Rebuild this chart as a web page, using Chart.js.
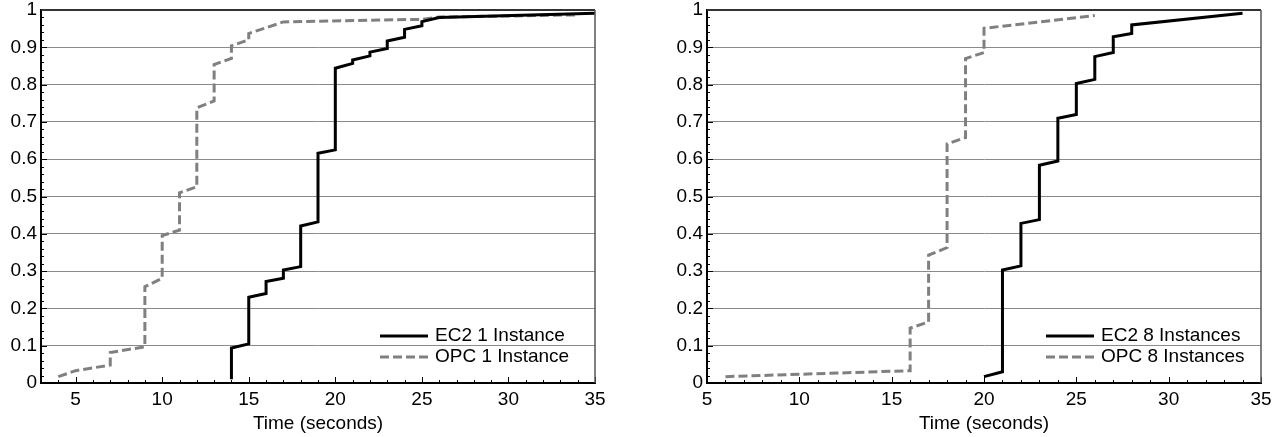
<!DOCTYPE html>
<html lang="en">
<head>
<meta charset="UTF-8">
<script src="https://cdn.jsdelivr.net/npm/chart.js"></script>
<title>CDF of run time</title>
<style>
  body { margin: 0; background: #fff; }
  canvas { position: absolute; top: 0; }
</style>
</head>
<body>
<canvas id="oneChart" width="640" height="437" style="left:0"></canvas>
<canvas id="eightChart" width="638" height="437" style="left:640px"></canvas>
<script>
// EC2 vs OPC, 1 instance (left panel)
const ec2OneX = [14, 14, 15, 15, 16, 16, 17, 17, 18, 18, 19, 19, 20, 20, 21, 21, 22, 22, 23, 23, 24, 24, 25, 25, 26, 35];
const ec2OneY = [0.01, 0.094, 0.105, 0.23, 0.24, 0.272, 0.281, 0.303, 0.312, 0.421, 0.432, 0.616, 0.625, 0.844, 0.857, 0.866, 0.877, 0.887, 0.897, 0.917, 0.927, 0.948, 0.958, 0.969, 0.980, 0.991];
const opcOneX = [4, 5, 7, 7, 9, 9, 10, 10, 11, 11, 12, 12, 13, 13, 14, 14, 15, 15, 17, 25, 26, 34];
const opcOneY = [0.017, 0.033, 0.048, 0.082, 0.097, 0.258, 0.281, 0.395, 0.41, 0.51, 0.526, 0.738, 0.756, 0.854, 0.870, 0.904, 0.920, 0.937, 0.968, 0.975, 0.981, 0.987];

// EC2 vs OPC, 8 instances (right panel)
const ec2EightX = [20, 21, 21, 22, 22, 23, 23, 24, 24, 25, 25, 26, 26, 27, 27, 28, 28, 34];
const ec2EightY = [0.017, 0.030, 0.303, 0.314, 0.428, 0.438, 0.584, 0.595, 0.710, 0.720, 0.803, 0.814, 0.875, 0.886, 0.928, 0.937, 0.960, 0.991];
const opcEightX = [6, 16, 16, 17, 17, 18, 18, 19, 19, 20, 20, 26];
const opcEightY = [0.017, 0.033, 0.147, 0.164, 0.343, 0.363, 0.641, 0.658, 0.870, 0.886, 0.951, 0.985];

// tick labels
const xTicks = [5, 10, 15, 20, 25, 30, 35];
const yTicks = [0, 0.1, 0.2, 0.3, 0.4, 0.5, 0.6, 0.7, 0.8, 0.9, 1];
const yTickLabels = ['0', '0.1', '0.2', '0.3', '0.4', '0.5', '0.6', '0.7', '0.8', '0.9', '1'];

const FONT_FAMILY = '"Liberation Sans", Arial, Helvetica, sans-serif';
const FONT_SIZE = 19;
Chart.defaults.font.family = FONT_FAMILY;
Chart.defaults.font.size = FONT_SIZE;
Chart.defaults.color = '#000';

function toPoints(xs, ys) {
    return xs.map((x, i) => ({ x: x, y: ys[i] }));
}

// minor ticks inside the plot + top/right frame
const framePlugin = {
    id: 'frame',
    afterDatasetsDraw(chart) {
        const { ctx, chartArea: a, scales: { x, y } } = chart;
        ctx.save();
        ctx.strokeStyle = '#000';
        ctx.lineWidth = 1;
        ctx.beginPath();
        for (let v = Math.ceil(x.min); v <= x.max; v++) {
            const px = Math.round(x.getPixelForValue(v)) + 0.5;
            const len = v % 5 === 0 ? 6 : 3;
            ctx.moveTo(px, a.bottom);
            ctx.lineTo(px, a.bottom - len);
        }
        for (let i = 0; i <= 50; i++) {
            const py = Math.round(y.getPixelForValue(i / 50)) + 0.5;
            const len = i % 5 === 0 ? 6 : 3;
            ctx.moveTo(a.left, py);
            ctx.lineTo(a.left + len, py);
        }
        ctx.stroke();

        ctx.strokeStyle = '#333';
        ctx.lineWidth = 2;
        ctx.beginPath();
        ctx.moveTo(a.left, a.top);
        ctx.lineTo(a.right, a.top);
        ctx.stroke();
        ctx.strokeStyle = '#555';
        ctx.lineWidth = 1.5;
        ctx.beginPath();
        ctx.moveTo(a.right, a.top);
        ctx.lineTo(a.right, a.bottom);
        ctx.stroke();
        ctx.restore();
    }
};

// legend drawn inside the lower right corner
const insideLegend = {
    id: 'insideLegend',
    afterDraw(chart) {
        const { ctx, chartArea: a } = chart;
        chart.data.datasets.forEach((ds, i) => {
            const yy = a.bottom - 47 + i * 21;
            const x0 = a.right - 215;
            ctx.save();
            ctx.strokeStyle = ds.borderColor;
            ctx.lineWidth = ds.borderWidth;
            ctx.setLineDash(ds.borderDash || []);
            ctx.beginPath();
            ctx.moveTo(x0, yy);
            ctx.lineTo(x0 + 48, yy);
            ctx.stroke();
            ctx.setLineDash([]);
            ctx.fillStyle = '#000';
            ctx.font = FONT_SIZE + 'px ' + FONT_FAMILY;
            ctx.textBaseline = 'middle';
            ctx.fillText(ds.label, x0 + 55, yy);
            ctx.restore();
        });
    }
};

function makeChart(id, cfg) {
    const ctx = document.getElementById(id).getContext('2d');
    return new Chart(ctx, {
        type: 'line',
        data: {
            datasets: [{
                label: cfg.ec2Label,
                data: toPoints(cfg.ec2X, cfg.ec2Y),
                borderColor: '#000',
                borderWidth: 3,
                borderJoinStyle: 'miter',
                pointRadius: 0,
                tension: 0
            }, {
                label: cfg.opcLabel,
                data: toPoints(cfg.opcX, cfg.opcY),
                borderColor: '#808080',
                borderWidth: 3,
                borderDash: [9, 4],
                borderJoinStyle: 'miter',
                pointRadius: 0,
                tension: 0
            }]
        },
        options: {
            responsive: false,
            animation: false,
            layout: { padding: { top: 10, right: cfg.padRight, left: 0, bottom: 0 } },
            plugins: { legend: { display: false }, tooltip: { enabled: false } },
            scales: {
                x: {
                    type: 'linear',
                    min: cfg.xMin,
                    max: 35,
                    grid: { display: false, drawTicks: false },
                    border: { color: '#000', width: 2 },
                    ticks: { padding: 5, maxRotation: 0 },
                    afterBuildTicks: scale => { scale.ticks = xTicks.map(v => ({ value: v })); },
                    afterFit: scale => { scale.height = 54; scale.paddingLeft = 0; scale.paddingRight = 0; },
                    title: { display: true, text: 'Time (seconds)', padding: { top: 0, bottom: 2 } }
                },
                y: {
                    type: 'linear',
                    min: 0,
                    max: 1,
                    grid: { color: '#8a8a8a', lineWidth: 1, drawTicks: false },
                    border: { color: '#000', width: 2 },
                    ticks: {
                        padding: 4,
                        callback: (v) => yTickLabels[yTicks.indexOf(Math.round(v * 10) / 10)]
                    },
                    afterBuildTicks: scale => { scale.ticks = yTicks.map(v => ({ value: v })); },
                    afterFit: scale => { scale.width = cfg.yWidth; scale.paddingTop = 0; scale.paddingBottom = 0; }
                }
            }
        },
        plugins: [framePlugin, insideLegend]
    });
}

makeChart('oneChart', {
    ec2Label: 'EC2 1 Instance', opcLabel: 'OPC 1 Instance',
    ec2X: ec2OneX, ec2Y: ec2OneY, opcX: opcOneX, opcY: opcOneY,
    xMin: 3, padRight: 45, yWidth: 41
});
makeChart('eightChart', {
    ec2Label: 'EC2 8 Instances', opcLabel: 'OPC 8 Instances',
    ec2X: ec2EightX, ec2Y: ec2EightY, opcX: opcEightX, opcY: opcEightY,
    xMin: 5, padRight: 17, yWidth: 67
});
</script>
</body>
</html>
